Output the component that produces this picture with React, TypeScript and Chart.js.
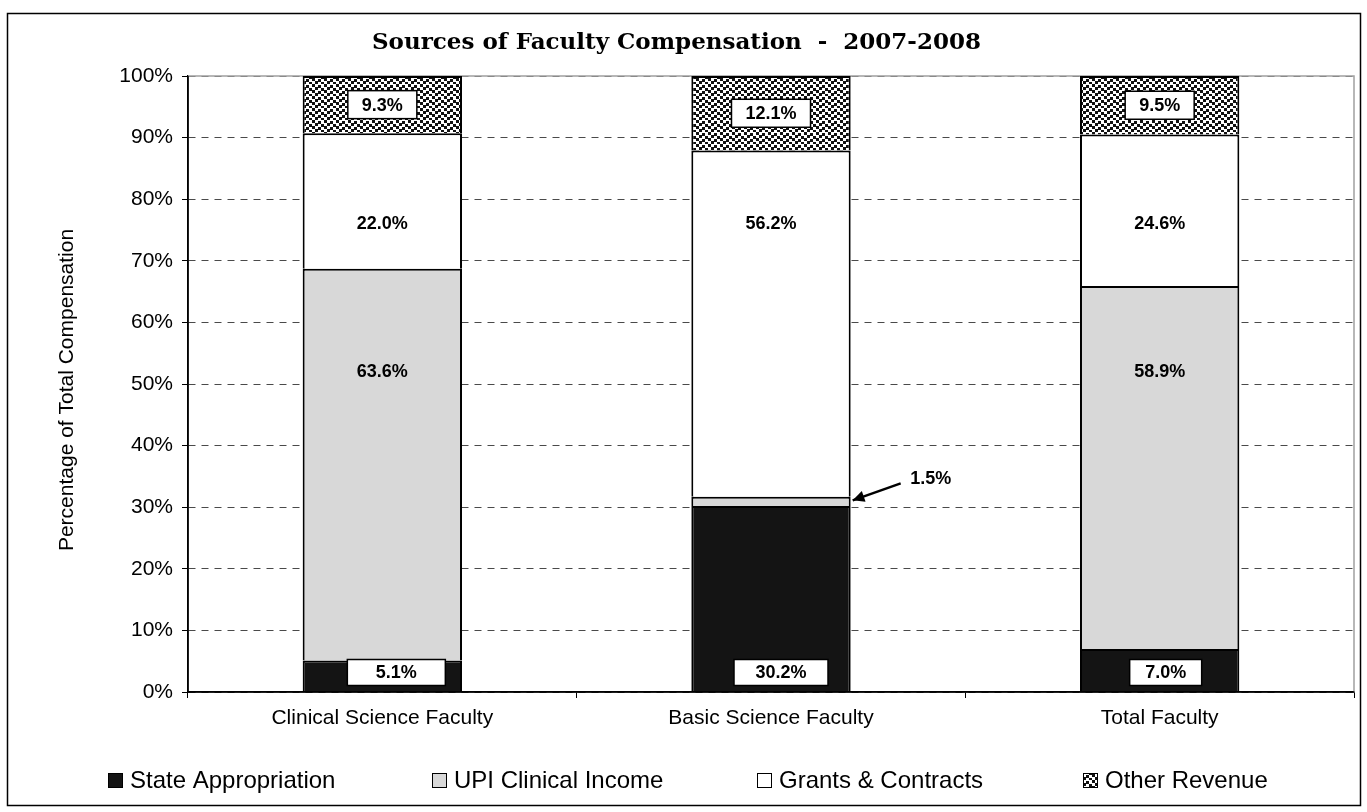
import React, { useEffect, useRef } from "react";
import { Chart, registerables } from "chart.js";

Chart.register(...registerables);

// ---------- DATA ----------
const categories = ["Clinical Science Faculty", "Basic Science Faculty", "Total Faculty"];
const seriesNames = ["State Appropriation", "UPI Clinical Income", "Grants & Contracts", "Other Revenue"];
const stateAppropriation = [5.1, 30.2, 7.0];
const upiClinicalIncome = [63.6, 1.5, 58.9];
const grantsContracts = [22.0, 56.2, 24.6];
const otherRevenue = [9.3, 12.1, 9.5];
const yTickValues = [0, 10, 20, 30, 40, 50, 60, 70, 80, 90, 100];

const TITLE = "Sources of Faculty Compensation  -  2007-2008";
const Y_TITLE = "Percentage of Total Compensation";

// ---------- STYLE ----------
const W = 1367;
const H = 812;
const SANS = '"Liberation Sans", Arial, sans-serif';
const SERIF = '"DejaVu Serif", "Liberation Serif", serif';
const BLACK = "#141414";
const GRAY = "#d8d8d8";
const stateBoxWidths = [98, 94, 72];
const stateBoxShift = [14, 10, 6];
// value positions (in %) where the un-boxed labels sit
const upiLabelAt = [52, null, 52];
const grantsLabelAt = [76, 76, 76];
const legendX = [108, 432, 757, 1083];
const LEGEND_Y = 780;

function makePattern(ctx: CanvasRenderingContext2D): CanvasPattern | string {
  const c = document.createElement("canvas");
  c.width = 12;
  c.height = 12;
  const g = c.getContext("2d");
  if (!g) return "#888";
  g.fillStyle = "#fff";
  g.fillRect(0, 0, 12, 12);
  g.fillStyle = "#111";
  const dots = [
    [0, 0], [6, 1], [3, 3], [9, 4], [0, 6], [6, 7], [3, 9], [9, 10],
  ];
  dots.forEach(([x, y]) => g.fillRect(x, y, 3, 3));
  return ctx.createPattern(c, "repeat") || "#888";
}

function fmt(v: number) {
  return v.toFixed(1) + "%";
}

function drawBox(ctx: CanvasRenderingContext2D, cx: number, cy: number, w: number, h: number, txt: string) {
  ctx.fillStyle = "#fff";
  ctx.fillRect(cx - w / 2, cy - h / 2, w, h);
  ctx.strokeStyle = "#000";
  ctx.lineWidth = 1.5;
  ctx.strokeRect(cx - w / 2, cy - h / 2, w, h);
  ctx.fillStyle = "#000";
  ctx.fillText(txt, cx, cy + 1);
}

const framePlugin = {
  id: "frame",
  beforeDatasetsDraw(chart: any) {
    const { ctx, chartArea } = chart;
    ctx.save();
    ctx.strokeStyle = "#a0a0a0";
    ctx.lineWidth = 1.5;
    ctx.beginPath();
    ctx.moveTo(chartArea.left, chartArea.top);
    ctx.lineTo(chartArea.right, chartArea.top);
    ctx.lineTo(chartArea.right, chartArea.bottom);
    ctx.stroke();
    ctx.restore();
  },
  afterDraw(chart: any) {
    const { ctx, chartArea } = chart;
    ctx.save();
    // solid axis lines
    ctx.strokeStyle = "#000";
    ctx.lineWidth = 1.5;
    ctx.setLineDash([]);
    ctx.beginPath();
    ctx.moveTo(chartArea.left, chartArea.top);
    ctx.lineTo(chartArea.left, chartArea.bottom);
    ctx.lineTo(chartArea.right, chartArea.bottom);
    ctx.stroke();
    // outer border
    ctx.strokeRect(7.5, 13.5, 1353, 792);
    // title
    ctx.fillStyle = "#000";
    ctx.font = `bold 23px ${SERIF}`;
    ctx.textAlign = "left";
    ctx.textBaseline = "middle";
    ctx.fillText(TITLE, 372, 43);
    // y title
    ctx.save();
    ctx.textAlign = "center";
    ctx.translate(67, 390);
    ctx.rotate(-Math.PI / 2);
    ctx.font = `21px ${SANS}`;
    ctx.fillText(Y_TITLE, 0, 0);
    ctx.restore();
    // legend
    const fills = chart.data.datasets.map((d: any) => d.backgroundColor);
    ctx.font = `24px ${SANS}`;
    ctx.textAlign = "left";
    seriesNames.forEach((name, i) => {
      const x = legendX[i];
      ctx.fillStyle = fills[i];
      ctx.fillRect(x, LEGEND_Y - 7, 15, 15);
      ctx.strokeStyle = "#000";
      ctx.lineWidth = 1;
      ctx.strokeRect(x + 0.5, LEGEND_Y - 6.5, 14, 14);
      ctx.fillStyle = "#000";
      ctx.fillText(name, x + 22, LEGEND_Y + 1);
    });
    ctx.restore();
  },
};

const labelsPlugin = {
  id: "valueLabels",
  afterDatasetsDraw(chart: any) {
    const { ctx } = chart;
    const ys = chart.scales.y;
    ctx.save();
    ctx.font = `bold 18px ${SANS}`;
    ctx.textAlign = "center";
    ctx.textBaseline = "middle";
    // State appropriation: boxed, near bottom of bar
    chart.getDatasetMeta(0).data.forEach((bar: any, j: number) => {
      const h = 26;
      drawBox(ctx, bar.x + stateBoxShift[j], bar.base - 6 - h / 2, stateBoxWidths[j], h, fmt(stateAppropriation[j]));
    });
    // Other revenue: boxed, centered in segment
    chart.getDatasetMeta(3).data.forEach((bar: any, j: number) => {
      const txt = fmt(otherRevenue[j]);
      const w = ctx.measureText(txt).width + 28;
      drawBox(ctx, bar.x, (bar.y + bar.base) / 2, w, 28, txt);
    });
    ctx.fillStyle = "#000";
    // UPI clinical income
    chart.getDatasetMeta(1).data.forEach((bar: any, j: number) => {
      const at = upiLabelAt[j];
      if (at !== null) {
        ctx.fillText(fmt(upiClinicalIncome[j]), bar.x, ys.getPixelForValue(at));
      } else {
        const ex = bar.x + bar.width / 2;
        const ey = (bar.y + bar.base) / 2;
        const lx = ex + 80;
        const ly = ey - 22;
        ctx.fillText(fmt(upiClinicalIncome[j]), lx, ly);
        // arrow
        const sx = lx - 30;
        const sy = ly + 4;
        const tx = ex + 2;
        const ty = ey - 1;
        ctx.strokeStyle = "#000";
        ctx.lineWidth = 2.5;
        ctx.beginPath();
        ctx.moveTo(sx, sy);
        ctx.lineTo(tx, ty);
        ctx.stroke();
        const ang = Math.atan2(ty - sy, tx - sx);
        ctx.beginPath();
        ctx.moveTo(tx, ty);
        ctx.lineTo(tx - 13 * Math.cos(ang - 0.45), ty - 13 * Math.sin(ang - 0.45));
        ctx.lineTo(tx - 13 * Math.cos(ang + 0.45), ty - 13 * Math.sin(ang + 0.45));
        ctx.closePath();
        ctx.fill();
      }
    });
    // Grants & contracts
    chart.getDatasetMeta(2).data.forEach((bar: any, j: number) => {
      ctx.fillText(fmt(grantsContracts[j]), bar.x, ys.getPixelForValue(grantsLabelAt[j]));
    });
    ctx.restore();
  },
};

export default function App() {
  const ref = useRef<HTMLCanvasElement | null>(null);

  useEffect(() => {
    const canvas = ref.current;
    if (!canvas) return;
    const ctx = canvas.getContext("2d");
    if (!ctx) return;
    const pattern = makePattern(ctx);
    const common = { borderColor: "#000", borderWidth: 2, barPercentage: 1, categoryPercentage: 0.41 };
    const chart = new Chart(ctx, {
      type: "bar",
      data: {
        labels: categories,
        datasets: [
          { label: seriesNames[0], data: stateAppropriation, backgroundColor: BLACK, ...common },
          { label: seriesNames[1], data: upiClinicalIncome, backgroundColor: GRAY, ...common },
          { label: seriesNames[2], data: grantsContracts, backgroundColor: "#ffffff", ...common },
          { label: seriesNames[3], data: otherRevenue, backgroundColor: pattern as any, ...common },
        ],
      },
      options: {
        responsive: true,
        maintainAspectRatio: false,
        animation: false,
        layout: { padding: { left: 0, right: 13, top: 76, bottom: 70 } },
        plugins: {
          legend: { display: false },
          title: { display: false },
          tooltip: { enabled: false },
        },
        scales: {
          x: {
            stacked: true,
            afterFit: (s: any) => {
              s.height = 50;
            },
            grid: {
              display: true,
              drawOnChartArea: false,
              drawTicks: true,
              tickLength: 6,
              color: "#000",
              offset: true,
            },
            border: { display: true, color: "#000", width: 1.5 },
            ticks: { color: "#000", font: { family: SANS, size: 21 }, padding: 8, maxRotation: 0 },
          },
          y: {
            stacked: true,
            min: 0,
            max: 100,
            afterFit: (s: any) => {
              s.width = 188;
            },
            afterBuildTicks: (s: any) => {
              s.ticks = yTickValues.map((v) => ({ value: v }));
            },
            grid: {
              color: "#4a4a4a",
              lineWidth: 1,
              tickBorderDash: [],
              tickColor: "#000",
              tickLength: 6,
              drawTicks: true,
            },
            border: { display: true, color: "#000", width: 1.5, dash: [7, 6] },
            ticks: {
              color: "#000",
              font: { family: SANS, size: 21 },
              padding: 9,
              callback: (v: any) => v + "%",
            },
          },
        },
      },
      plugins: [framePlugin, labelsPlugin],
    });
    return () => chart.destroy();
  }, []);

  return (
    <div style={{ position: "fixed", left: 0, top: 0, width: W, height: H, background: "#fff" }}>
      <canvas ref={ref} />
    </div>
  );
}
